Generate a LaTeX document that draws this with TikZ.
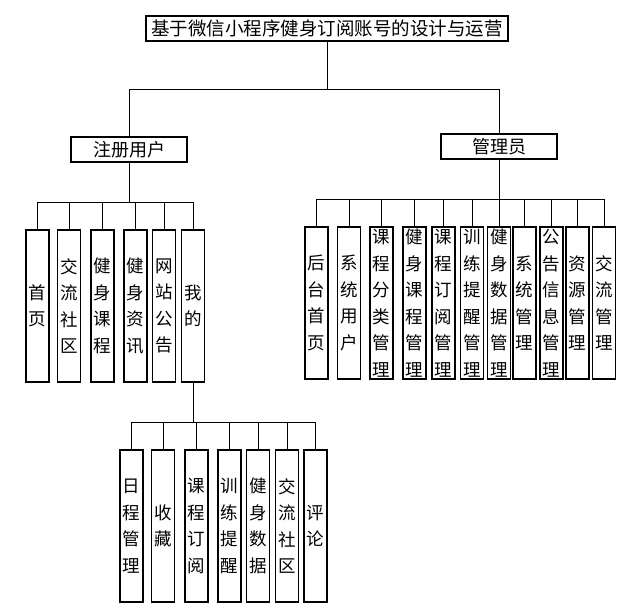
\documentclass[tikz,border=0pt]{standalone}
\usepackage{fontspec}
\setmainfont{Noto Sans CJK SC}
\usetikzlibrary{positioning}

\begin{document}
\begin{tikzpicture}[x=1pt,y=-1pt,
  box/.style={draw,line width=1.4pt,inner sep=0pt,align=center},
  hbox/.style={box,minimum width=116pt,minimum height=25pt,font=\fontsize{18}{20}\selectfont},
  vbox/.style={box,minimum width=23pt,minimum height=152pt,font=\fontsize{17.5}{26.5}\selectfont},
  link/.style={line width=1pt}]
\useasboundingbox (0,0) rectangle (644,615);
\node[box,minimum width=362pt,minimum height=25pt,font=\fontsize{18.5}{20}\selectfont] (root) at (327,28.5)
  {基于微信小程序健身订阅账号的设计与运营};
\node[hbox] (user) at (129,149.5) {注册用户};
\node[hbox] (admin) at (499,146.5) {管理员};
\foreach \x/\t [count=\i] in {37.5/首\\页,69/交\\流\\社\\区,102.5/健\\身\\课\\程,
    135.5/健\\身\\资\\讯,164/网\\站\\公\\告,193/我\\的}
  \node[vbox] (u\i) at (\x,306) {\t};
\foreach \x/\t [count=\i] in {316.5/后\\台\\首\\页,349/系\\统\\用\\户,381.5/课\\程\\分\\类\\管\\理,
    414.5/健\\身\\课\\程\\管\\理,443.5/课\\程\\订\\阅\\管\\理,472/训\\练\\提\\醒\\管\\理,
    499/健\\身\\数\\据\\管\\理,524.5/系\\统\\管\\理,551.5/公\\告\\信\\息\\管\\理,
    577.5/资\\源\\管\\理,604/交\\流\\管\\理}
  \node[vbox] (a\i) at (\x,303) {\t};
\foreach \x/\t [count=\i] in {131.5/日\\程\\管\\理,163/收\\藏,196.5/课\\程\\订\\阅,
    229.5/训\\练\\提\\醒,258/健\\身\\数\\据,287/交\\流\\社\\区,315.5/评\\论}
  \node[vbox] (m\i) at (\x,526) {\t};
\coordinate (tbus) at (327,90);
\coordinate (ubus) at (129,202);
\coordinate (abus) at (499,199);
\coordinate (mbus) at (193,422);
\draw[link] (root.south) -- (tbus);
\draw[link] (user.north) |- (tbus);
\draw[link] (admin.north) |- (tbus);
\draw[link] (user.south) -- (ubus);
\foreach \i in {1,...,6}
  \draw[link] (u\i.north) |- (ubus);
\draw[link] (admin.south) -- (abus);
\foreach \i in {1,...,11}
  \draw[link] (a\i.north) |- (abus);
\draw[link] (u6.south) -- (mbus);
\foreach \i in {1,...,7}
  \draw[link] (m\i.north) |- (mbus);
\end{tikzpicture}
\end{document}
